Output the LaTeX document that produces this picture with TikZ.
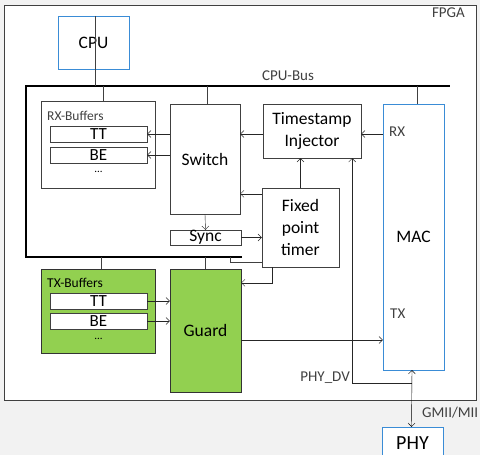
\documentclass[tikz,border=0pt]{standalone}
\usepackage{fontspec}
\setmainfont{Carlito}
\usepackage{xcolor}
\usepackage{tikz}
\usetikzlibrary{arrows.meta, positioning, calc}
\definecolor{macblue}{HTML}{3A8CD6}
\definecolor{txgreen}{HTML}{92D050}
\definecolor{linegray}{HTML}{404040}
\definecolor{bggray}{HTML}{F2F2F2}

\begin{document}
\begin{tikzpicture}[x=1pt, y=-1pt,
    box/.style={draw=linegray, fill=white, inner sep=0pt, align=center, font=\fontsize{17.5}{22}\selectfont},
    bluebox/.style={box, draw=macblue},
    greenbox/.style={box, fill=txgreen, draw=linegray!80!black},
    slot/.style={draw=linegray, fill=white, inner sep=0pt, minimum width=97pt, minimum height=16pt, font=\fontsize{17}{17}\selectfont},
    small/.style={inner sep=0pt, font=\fontsize{15}{15}\selectfont, text=linegray},
    arr/.style={-{Straight Barb[length=3.5pt, width=7pt]}, thin, black!85},
    bus/.style={line width=2.6pt, black}]
  % Background and clipping
  \fill[bggray] (0,0) rectangle (480,455);
  \clip (0,0) rectangle (480,455);
  % FPGA frame
  \node[draw=linegray, fill=white, minimum width=472pt, minimum height=395pt, inner sep=0pt] (fpga) at (240,202.5) {};
  \node[small, anchor=north east] (fpgalab) at (465,8) {FPGA};
  % CPU and bus
  \node[bluebox, minimum width=71pt, minimum height=53pt] (cpu) at (93.5,42.5) {CPU};
  \coordinate (bustop) at (26,86);
  \coordinate (busend) at (450,86);
  \coordinate (buscorner) at (26,257);
  \coordinate (busbot) at (242,257);
  \draw[bus] (busbot) -- (buscorner) -- (bustop) -- (busend);
  \node[small] (buslab) at (288,76) {CPU-Bus};
  % RX side
  \node[box, minimum width=114pt, minimum height=87pt] (rxbuf) at (98,144.5) {};
  \node[small, anchor=west, font=\fontsize{13.5}{13.5}\selectfont] (rxlab) at (47,116) {RX-Buffers};
  \node[slot] (rxtt) at (98.5,134) {TT};
  \node[slot] (rxbe) at (98.5,155) {BE};
  \node[inner sep=0pt, font=\fontsize{11}{11}\selectfont] (rxdots) at (98.5,172) {...};
  \node[box, minimum width=70pt, minimum height=110pt] (switch) at (205,159) {Switch};
  \node[box, minimum width=71pt, minimum height=15pt] (sync) at (205.5,237.5) {Sync};
  \node[box, minimum width=98pt, minimum height=54pt] (tsi) at (312,131) {Timestamp\\Injector};
  \node[box, minimum width=77pt, minimum height=79pt] (timer) at (300.5,227.5) {Fixed\\point\\timer};
  \node[bluebox, minimum width=61pt, minimum height=266pt] (mac) at (413.5,237) {MAC};
  \node[small, anchor=west] (rxport) at (389,132) {RX};
  \node[small, anchor=west] (txport) at (390,314) {TX};
  % TX side
  \node[greenbox, minimum width=114pt, minimum height=84pt] (txbuf) at (98,311) {};
  \node[small, anchor=west, text=black, font=\fontsize{13.5}{13.5}\selectfont] (txlab) at (47,283) {TX-Buffers};
  \node[slot] (txtt) at (98.5,301) {TT};
  \node[slot] (txbe) at (98.5,321) {BE};
  \node[inner sep=0pt, font=\fontsize{11}{11}\selectfont] (txdots) at (98.5,339) {...};
  \node[greenbox, minimum width=71pt, minimum height=123pt] (guard) at (205.5,330.5) {Guard};
  % PHY
  \node[bluebox, minimum width=61pt, minimum height=32pt, font=\fontsize{20}{20}\selectfont] (phy) at (412.5,443) {PHY};
  \node[small, anchor=west] (gmii) at (422,413) {GMII/MII};
  \node[small, anchor=east] (dvlab) at (350,378) {PHY\_DV};
  % Bus taps
  \foreach \n/\dx in {cpu/1.5, rxbuf/5, switch/2, mac/3.5}
    \draw[linegray] ([xshift=\dx pt]\n.north) -- ([xshift=\dx pt]\n.north |- bustop);
  \draw[linegray] ([xshift=1.5pt]cpu.south) -- ([xshift=1.5pt]cpu.south |- bustop);
  \foreach \n/\dx in {txbuf/3, guard/-0.5}
    \draw[linegray] ([xshift=\dx pt]\n.north) -- ([xshift=\dx pt]\n.north |- busbot);
  \draw[linegray] ([yshift=5pt]timer.south west) -| ([xshift=-12pt]busbot);
  % Data paths
  \foreach \b in {rxtt, rxbe}
    \draw[arr] (switch.west |- \b.east) -- (\b.east);
  \draw[arr] ([yshift=-3pt]tsi.west) -- ([yshift=-3pt]tsi.west -| switch.east);
  \draw[arr] ([yshift=-3pt]tsi.west -| mac.west) -- ([yshift=-3pt]tsi.east);
  \draw[arr] ([yshift=-6pt]timer.north west) -- ([yshift=-6pt]timer.north west -| switch.east);
  \draw[arr] (switch.south) -- (sync.north);
  \draw[arr] (sync.east) -- (sync.east -| timer.west);
  \draw[arr] (timer.north) -- (timer.north |- tsi.south);
  \draw[arr] ([xshift=-28.5pt]timer.south) |- ([yshift=-14pt]guard.north east);
  \foreach \b in {txtt, txbe}
    \draw[arr] (\b.east) -- (\b.east -| guard.west);
  \draw[arr] ([yshift=-9.5pt]guard.east) -- ([yshift=-9.5pt]guard.east -| mac.west);
  \draw[arr] ([xshift=-1.5pt, yshift=-13pt]mac.south) -| ([xshift=-9pt]tsi.south east);
  \draw[{Straight Barb[length=3.5pt, width=7pt]}-{Straight Barb[length=3.5pt, width=7pt]}, thin, black] ([xshift=-1.5pt]mac.south) -- ([xshift=-1pt]phy.north);
\end{tikzpicture}
\end{document}
